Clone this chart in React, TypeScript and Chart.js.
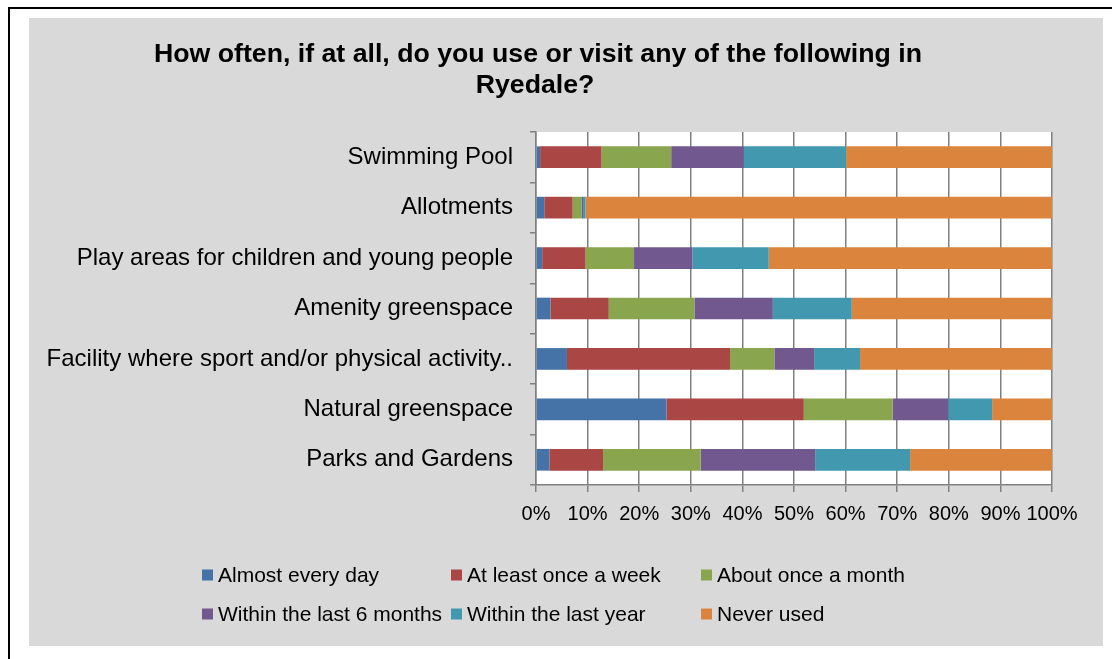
import { useEffect, useRef } from "react";
import { Chart, registerables } from "chart.js";

Chart.register(...registerables);

const categories = [
  "Swimming Pool",
  "Allotments",
  "Play areas for children and young people",
  "Amenity greenspace",
  "Facility where sport and/or physical activity..",
  "Natural greenspace",
  "Parks and Gardens",
];

const seriesNames = [
  "Almost every day",
  "At least once a week",
  "About once a month",
  "Within the last 6 months",
  "Within the last year",
  "Never used",
];

const almostEveryDay = [0.8, 1.6, 1.2, 2.8, 6.0, 25.3, 2.6];
const atLeastOnceAWeek = [11.9, 5.5, 8.4, 11.3, 31.6, 26.6, 10.4];
const aboutOnceAMonth = [13.5, 1.7, 9.4, 16.6, 8.6, 17.2, 18.9];
const withinLast6Months = [14.1, 0.3, 11.3, 15.2, 7.7, 10.8, 22.2];
const withinLastYear = [19.8, 0.5, 14.8, 15.3, 8.9, 8.5, 18.4];
const neverUsed = [39.9, 90.4, 54.9, 38.8, 37.2, 11.6, 27.5];

const seriesColors = ["#4572A7", "#AA4643", "#89A54E", "#71588F", "#4198AF", "#DB843D"];

const titleLines = [
  "How often, if at all, do you use or visit any of the following in",
  "Ryedale?",
];

const FONT = '"Liberation Sans", Arial, sans-serif';
const GRID = "#808080";

const backgroundPlugin = {
  id: "bgPlugin",
  beforeDraw(chart: any) {
    const { ctx, chartArea } = chart;
    ctx.save();
    ctx.fillStyle = "#D9D9D9";
    ctx.fillRect(0, 0, chart.width, chart.height);
    ctx.fillStyle = "#FFFFFF";
    ctx.fillRect(chartArea.left, chartArea.top, chartArea.right - chartArea.left, chartArea.bottom - chartArea.top);
    ctx.restore();
  },
  afterDraw(chart: any) {
    const { ctx } = chart;
    ctx.save();
    // Title
    ctx.fillStyle = "#000";
    ctx.font = `bold 26.7px ${FONT}`;
    ctx.textAlign = "center";
    ctx.textBaseline = "middle";
    ctx.fillText(titleLines[0], 509, 37);
    ctx.fillText(titleLines[1], 506, 68);
    // Legend
    const colX = [173, 422, 672];
    const rowY = [557, 596];
    ctx.font = `21px ${FONT}`;
    ctx.textAlign = "left";
    chart.data.datasets.forEach((ds: any, i: number) => {
      const x = colX[i % 3];
      const y = rowY[Math.floor(i / 3)];
      ctx.fillStyle = ds.backgroundColor;
      ctx.fillRect(x, y - 5.5, 11, 11);
      ctx.fillStyle = "#000";
      ctx.fillText(ds.label, x + 16, y + 1);
    });
    ctx.restore();
  },
};

export default function App() {
  const ref = useRef<HTMLCanvasElement>(null);

  useEffect(() => {
    const values = [almostEveryDay, atLeastOnceAWeek, aboutOnceAMonth, withinLast6Months, withinLastYear, neverUsed];
    const chart = new Chart(ref.current as HTMLCanvasElement, {
      type: "bar",
      data: {
        labels: categories,
        datasets: seriesNames.map((name, i) => ({
          label: name,
          data: values[i],
          backgroundColor: seriesColors[i],
          borderWidth: 0,
          barPercentage: 0.43,
          categoryPercentage: 1.0,
        })),
      },
      options: {
        indexAxis: "y",
        responsive: false,
        animation: false,
        layout: { padding: { left: 0, top: 114, right: 51, bottom: 111 } },
        plugins: {
          legend: { display: false },
          title: { display: false },
          tooltip: { enabled: false },
        },
        scales: {
          x: {
            stacked: true,
            min: 0,
            max: 100,
            afterFit(scale: any) {
              scale.height = 50;
            },
            ticks: {
              stepSize: 10,
              autoSkip: false,
              color: "#000",
              font: { family: FONT, size: 20 },
              padding: 10,
              maxRotation: 0,
              callback: (v: any) => `${v}%`,
            },
            grid: { color: GRID, lineWidth: 1.5, tickLength: 7, drawTicks: true },
            border: { color: GRID, width: 1.5 },
          },
          y: {
            stacked: true,
            afterFit(scale: any) {
              scale.width = 507;
            },
            ticks: {
              color: "#000",
              font: { family: FONT, size: 24 },
              padding: 17,
              autoSkip: false,
            },
            grid: { drawOnChartArea: false, offset: true, color: GRID, lineWidth: 1.5, tickLength: 6 },
            border: { color: GRID, width: 1.5 },
          },
        },
      },
      plugins: [backgroundPlugin],
    });
    return () => chart.destroy();
  }, []);

  return (
    <div style={{ position: "fixed", inset: 0, overflow: "hidden", background: "#fff" }}>
      <div
        style={{
          position: "absolute",
          left: 8,
          top: 7,
          width: 1300,
          height: 900,
          borderLeft: "2px solid #000",
          borderTop: "2px solid #000",
        }}
      />
      <div style={{ position: "absolute", left: 29, top: 18, width: 1074, height: 628 }}>
        <canvas ref={ref} width={1074} height={628} style={{ display: "block", width: 1074, height: 628 }} />
      </div>
    </div>
  );
}
